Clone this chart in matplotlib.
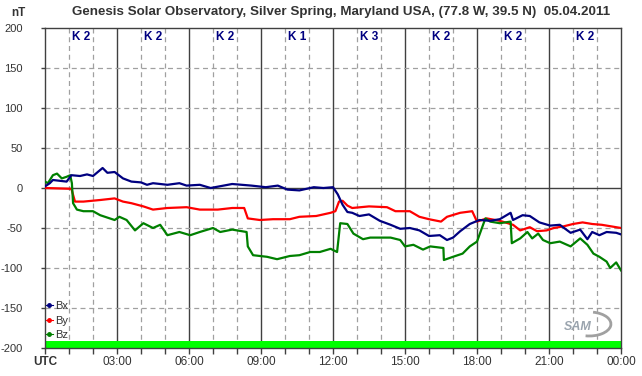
import matplotlib
matplotlib.use("Agg")
import matplotlib.pyplot as plt
from matplotlib.lines import Line2D
from matplotlib.patches import Arc
import numpy as np

plt.rcParams['font.family'] = ['Liberation Sans', 'DejaVu Sans']

title = "Genesis Solar Observatory, Silver Spring, Maryland USA, (77.8 W, 39.5 N)  05.04.2011"
k_labels = ["K 2", "K 2", "K 2", "K 1", "K 3", "K 2", "K 2", "K 2"]
x_tick_labels = ["UTC", "03:00", "06:00", "09:00", "12:00", "15:00", "18:00", "21:00", "00:00"]
y_ticks = [200, 150, 100, 50, 0, -50, -100, -150, -200]

bx_t = [0.0, 0.2, 0.33, 0.9, 1.1, 1.46, 1.75, 2.0, 2.4, 2.6, 2.9, 3.25, 3.6, 4.0, 4.25, 4.5,
        5.1, 5.6, 5.9, 6.45, 6.9, 7.8, 8.6, 9.2, 9.7, 10.1, 10.6, 11.2, 11.6, 12.0, 12.2,
        12.4, 12.6, 12.8, 13.1, 13.5, 13.95, 14.4, 14.8, 15.2, 15.6, 16.0, 16.45, 16.75,
        17.0, 17.3, 17.7, 18.1, 18.55, 18.95, 19.4, 19.5, 19.9, 20.2, 20.6, 21.05, 21.45,
        21.9, 22.3, 22.6, 22.8, 23.1, 23.4, 23.8, 24.0]
bx_v = [2, 6, 10, 8, 16, 15, 17, 15, 25, 19, 20, 12, 8, 7, 4, 6,
        4, 6, 3, 4, 0, 5, 3, 1, 3, -2, -3, 1, 0, 1, -8,
        -21, -30, -31, -35, -33, -41, -46, -51, -50, -53, -60, -59, -65,
        -62, -54, -45, -40, -41, -39, -31, -40, -34, -35, -43, -47, -46,
        -56, -52, -64, -55, -59, -55, -56, -58]

by_t = [0.0, 1.1, 1.25, 1.6, 2.3, 2.9, 3.25, 3.6, 4.1, 4.5, 5.1, 5.9, 6.45, 7.2, 7.8, 8.3,
        8.45, 8.95, 9.5, 10.2, 10.6, 11.3, 11.9, 12.1, 12.25, 12.4, 12.6, 12.8, 13.5, 14.25,
        14.6, 15.2, 15.6, 16.0, 16.5, 16.75, 17.3, 17.8, 18.0, 18.4, 18.95, 19.5, 19.8,
        20.2, 20.5, 20.9, 21.2, 21.6, 22.0, 22.4, 22.8, 23.2, 23.6, 24.0]
by_v = [0, -1, -17, -17, -15, -13, -17, -19, -23, -27, -25, -24, -27, -27, -25, -25,
        -38, -40, -39, -39, -36, -35, -31, -29, -17, -16, -22, -25, -23, -24,
        -29, -29, -36, -39, -42, -36, -31, -29, -42, -38, -41, -46, -53,
        -49, -54, -53, -50, -48, -45, -43, -45, -46, -48, -50]

bz_t = [0.0, 0.12, 0.33, 0.5, 0.7, 0.9, 1.05, 1.12, 1.17, 1.33, 1.6, 2.0, 2.3, 2.7, 2.9, 3.1,
        3.4, 3.75, 4.1, 4.5, 4.8, 5.1, 5.6, 6.05, 6.45, 7.0, 7.3, 7.8, 8.4, 8.45, 8.67,
        9.25, 9.67, 10.2, 10.6, 11.05, 11.45, 11.9, 12.17, 12.3, 12.6, 12.85, 13.25, 13.55,
        13.95, 14.4, 14.8, 15.0, 15.35, 15.75, 16.05, 16.6, 16.62, 17.0, 17.4, 17.7, 18.0,
        18.35, 18.55, 18.95, 19.4, 19.45, 19.8, 20.1, 20.3, 20.55, 20.75, 21.05, 21.45,
        21.9, 22.3, 22.6, 22.85, 23.1, 23.4, 23.55, 23.8, 24.0]
bz_v = [8, 6, 16, 18, 12, 14, 16, 6, -19, -27, -29, -29, -34, -38, -40, -36,
        -40, -53, -44, -50, -46, -59, -55, -59, -55, -50, -55, -52, -55, -73, -84,
        -86, -89, -85, -84, -80, -80, -76, -80, -44, -45, -57, -64, -62,
        -62, -62, -65, -73, -71, -77, -73, -75, -90, -86, -82, -73, -67,
        -38, -42, -44, -42, -69, -63, -55, -63, -57, -65, -69, -67,
        -73, -63, -71, -82, -86, -92, -100, -93, -103]

fig = plt.figure(figsize=(6.42, 3.76), dpi=100)
ax = fig.add_axes([45/642, 28/376, 576/642, 320/376])
ax.set_xlim(0, 24)
ax.set_ylim(-200, 200)

text_col = "#333333"
frame_col = "#404040"

for h in range(1, 24):
    if h % 3 == 0:
        ax.axvline(h, color=frame_col, lw=1.0, zorder=1)
    else:
        ax.axvline(h, color="#a0a0a0", lw=0.9, ls=(0, (4, 3)), zorder=1)
for yv in y_ticks:
    if yv == 0:
        ax.axhline(0, color=frame_col, lw=1.0, zorder=1)
    elif abs(yv) != 200:
        ax.axhline(yv, color="#a0a0a0", lw=0.9, ls=(0, (4, 3)), zorder=1)

ax.axhspan(-200, -191, color="#00ff00", zorder=2, lw=0)

ax.plot(bx_t, bx_v, color="#000080", lw=1.6, zorder=4, label="Bx")
ax.plot(by_t, by_v, color="#ff0000", lw=1.6, zorder=3, label="By")
ax.plot(bz_t, bz_v, color="#008000", lw=1.6, zorder=3, label="Bz")

for i, k in enumerate(k_labels):
    ax.text(3 * i + 1.5, 189, k, ha="center", va="center", color="#000080",
            fontsize=8.5, fontweight="bold", zorder=5)

ax.set_xticks(np.arange(0, 25, 3))
ax.set_xticklabels(x_tick_labels, fontsize=8.5, color=text_col)
ax.get_xticklabels()[0].set_fontweight("bold")
ax.set_xticks(np.arange(0, 25, 1), minor=True)
ax.tick_params(axis="x", which="both", direction="out", length=4, width=1, color=frame_col, pad=2)
ax.set_yticks(y_ticks)
ax.set_yticklabels([str(v) for v in y_ticks], fontsize=8, color=text_col)
ax.tick_params(axis="y", direction="out", length=3, width=1, color=frame_col, pad=13)
for s in ax.spines.values():
    s.set_color(frame_col)
    s.set_linewidth(1.0)

handles = [Line2D([0], [0], color=c, marker="o", markersize=2.5, lw=0.8)
           for c in ["#000080", "#ff0000", "#008000"]]
ax.legend(handles, ["Bx", "By", "Bz"], loc="lower left", bbox_to_anchor=(-0.012, 0.0),
          frameon=False, fontsize=8, handlelength=0.6, handletextpad=0.2,
          labelspacing=0.42, borderpad=0.2, labelcolor=text_col)

fig.text(341/642, 1 - 12/376, title, ha="center", va="center", fontsize=9.6,
         fontweight="bold", color=text_col)
fig.text(18/642, 1 - 13/376, "nT", ha="center", va="center", fontsize=8.5,
         fontweight="bold", color=text_col)

ax.text(0.925, 0.066, "SAM", transform=ax.transAxes, ha="center", va="center",
        fontsize=9, fontstyle="italic", fontweight="bold", color="#9aa4ae", zorder=5)
ax.add_patch(Arc((0.945, 0.075), 0.075, 0.075, theta1=-100, theta2=80,
                 transform=ax.transAxes, color="#a0a0a0", lw=2.0, zorder=5))

fig.savefig("out.png", dpi=100)
